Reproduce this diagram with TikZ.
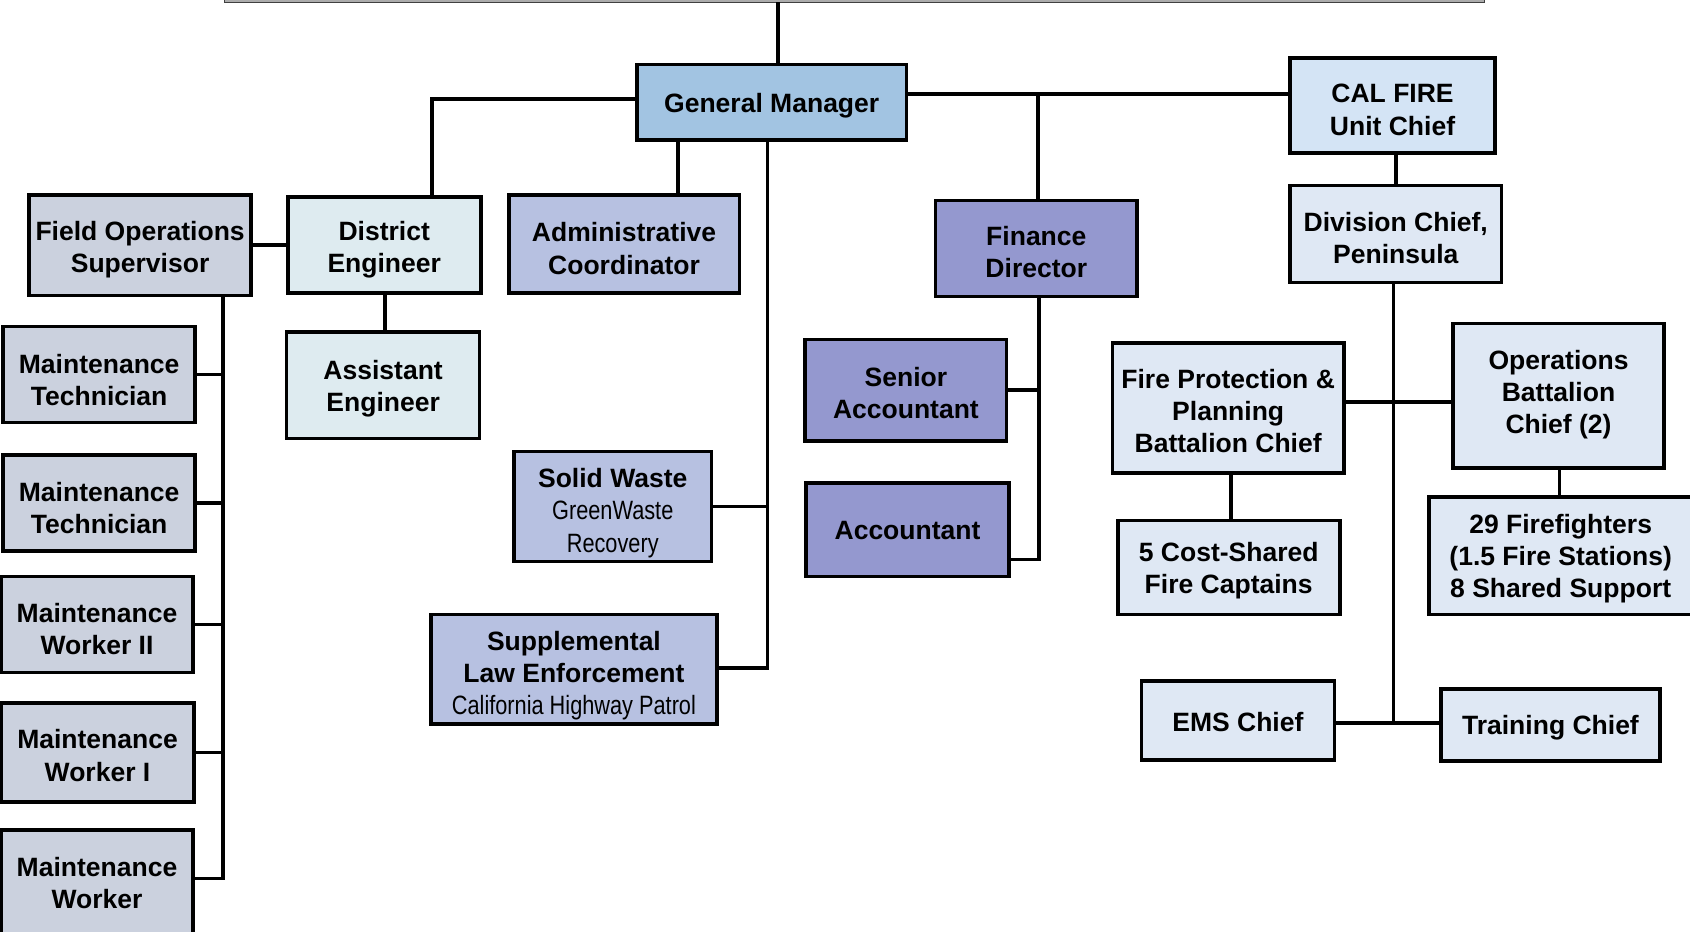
\documentclass[tikz,border=0pt]{standalone}
\usepackage{fontspec}
\setmainfont{Liberation Sans}
\newfontfamily\narrowfont{Liberation Sans}[FakeStretch=0.82]
\definecolor{cGM}{RGB}{162,196,226}
\definecolor{cCF}{RGB}{212,228,245}
\definecolor{cFire}{RGB}{223,232,244}
\definecolor{cFin}{RGB}{148,152,207}
\definecolor{cAdm}{RGB}{183,193,225}
\definecolor{cEng}{RGB}{222,235,240}
\definecolor{cFld}{RGB}{203,209,222}
\tikzset{
  box/.style={draw=black, line width=1.9pt, inner sep=0pt, outer sep=0pt},
  lbl/.style={inner sep=0pt, align=center, font=\fontsize{14}{17}\selectfont\bfseries},
  conn/.style={draw=black, line width=1.9pt, line join=miter},
  gmbox/.style={box, fill=cGM},
  cfbox/.style={box, fill=cCF},
  firebox/.style={box, fill=cFire},
  finbox/.style={box, fill=cFin},
  admbox/.style={box, fill=cAdm},
  engbox/.style={box, fill=cEng},
  fldbox/.style={box, fill=cFld},
}
% \bxs{name}{x1}{y1}{x2}{y2}{style}{text}{text shift down in px}
\newcommand\bxs[8]{%
  \node[#6, minimum width={(#4-#2)*0.02cm}, minimum height={(#5-#3)*0.02cm}] (#1) at ({(#2+#4)/2},{(#3+#5)/2}) {};
  \node[lbl] (#1-t) at ([yshift={-(#8)*0.02cm}]#1.center) {#7};}
\newcommand\bx[7]{\bxs{#1}{#2}{#3}{#4}{#5}{#6}{#7}{3}}
\newcommand\nl[1]{{\narrowfont\mdseries #1}}
\begin{document}
\begin{tikzpicture}[x=0.02cm, y=-0.02cm]
\useasboundingbox (0,0) rectangle (1568,864);
\clip (0,0) rectangle (1568,864);
% top bar (clipped box)
\fill[gray!65] (208,-6) rectangle (1377,2);
\draw[line width=0.6pt, black!75] (208,-6) rectangle (1377,2);
\coordinate (tb) at (722,2);

% boxes
\bx{gm}{591}{60}{841}{130}{gmbox}{General Manager}
\bxs{cf}{1197}{54}{1387}{142}{cfbox}{CAL FIRE\\Unit Chief}{4}
\bx{fd}{868}{186}{1055}{275}{finbox}{Finance\\Director}
\bxs{de}{267}{183}{446}{272}{engbox}{District\\Engineer}{4}
\bxs{ac}{472}{181}{686}{272}{admbox}{Administrative\\Coordinator}{4}
\bxs{fos}{27}{181}{233}{274}{fldbox}{Field Operations\\Supervisor}{4}
\bxs{ae}{266}{308}{445}{407}{engbox}{Assistant\\Engineer}{3}
\bxs{sw}{477}{419}{660}{521}{admbox}{Solid Waste\\\nl{GreenWaste}\\\nl{Recovery}}{6}
\bxs{sl}{400}{570}{665}{672}{admbox}{Supplemental\\Law Enforcement\\\nl{California Highway Patrol}}{6}
\bxs{mt1}{3}{303}{181}{392}{fldbox}{Maintenance\\Technician}{5}
\bxs{mt2}{3}{422}{181}{511}{fldbox}{Maintenance\\Technician}{5}
\bxs{mw2}{1}{535}{179}{624}{fldbox}{Maintenance\\Worker II}{4}
\bxs{mw1}{1}{652}{180}{744}{fldbox}{Maintenance\\Worker I}{3}
\bxs{mw}{1}{770}{179}{866}{fldbox}{Maintenance\\Worker}{1}
\bx{sa}{747}{315}{934}{409}{finbox}{Senior\\Accountant}
\bxs{acc}{748}{448}{936}{535}{finbox}{Accountant}{1}
\bxs{dc}{1197}{172}{1393}{262}{firebox}{Division Chief,\\Peninsula}{4}
\bx{fp}{1032}{318}{1247}{439}{firebox}{Fire Protection \&\\Planning\\Battalion Chief}
\bxs{ops}{1348}{300}{1544}{434}{firebox}{Operations\\Battalion\\Chief (2)}{-1}
\bx{cs}{1037}{483}{1243}{570}{firebox}{5 Cost-Shared\\Fire Captains}
\bx{ff}{1326}{461}{1570}{570}{firebox}{29 Firefighters\\(1.5 Fire Stations)\\8 Shared Support}
\bxs{ems}{1059}{632}{1238}{705}{firebox}{EMS Chief}{1}
\bx{tc}{1337}{639}{1540}{706}{firebox}{Training Chief}

% junction coordinates
\coordinate (j1) at (963,87);
\coordinate (j2) at (401,92);
\coordinate (j3) at (629,0);
\coordinate (j4) at (712,470);
\coordinate (j5) at (712,620);
\coordinate (k) at (207,815);
\coordinate (f) at (964,519);
\coordinate (d) at (1293,671);
\coordinate (d2) at (1293,373);
\coordinate (c1) at (1295,0);
\coordinate (c2) at (1142,0);
\coordinate (c3) at (1447,0);
\coordinate (c4) at (357,0);

% connectors
\draw[conn] (tb) -- (tb |- gm.north);
\draw[conn] (gm.east |- j1) -- (cf.west |- j1);
\draw[conn] (j1) -- (j1 |- fd.north);
\draw[conn] (gm.west |- j2) -- (j2) -- (j2 |- de.north);
\draw[conn] (gm.south -| j3) -- (j3 |- ac.north);
\draw[conn] (gm.south -| j5) -- (j5) -- (sl.east |- j5);
\draw[conn] (sw.east |- j4) -- (j4);
\draw[conn] (fos.east) -- (de.west |- fos.east);
\draw[conn] (de.south -| c4) -- (c4 |- ae.north);
\draw[conn] (fos.south -| k) -- (k) -- (mw.east |- k);
\draw[conn] (mt1.east) -- (mt1.east -| k);
\draw[conn] (mt2.east) -- (mt2.east -| k);
\draw[conn] (mw2.east) -- (mw2.east -| k);
\draw[conn] (mw1.east) -- (mw1.east -| k);
\draw[conn] (fd.south -| f) -- (f) -- (acc.east |- f);
\draw[conn] (sa.east) -- (sa.east -| f);
\draw[conn] (cf.south -| c1) -- (c1 |- dc.north);
\draw[conn] (dc.south -| d) -- (d);
\draw[conn] (ems.east |- d) -- (tc.west |- d);
\draw[conn] (fp.east |- d2) -- (ops.west |- d2);
\draw[conn] (fp.south -| c2) -- (c2 |- cs.north);
\draw[conn] (ops.south -| c3) -- (c3 |- ff.north);
\end{tikzpicture}
\end{document}
